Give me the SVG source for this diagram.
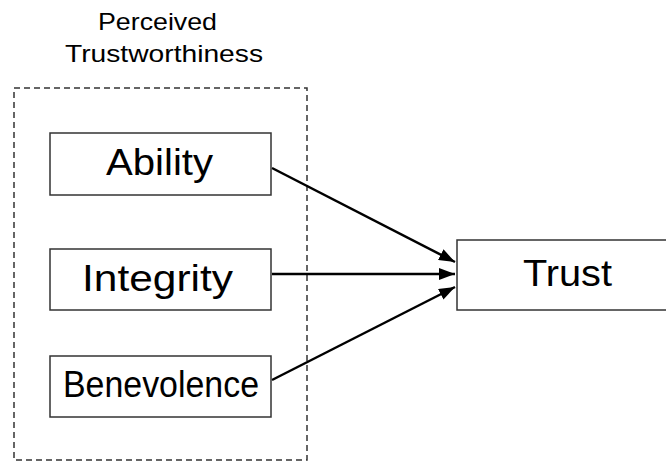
<svg xmlns="http://www.w3.org/2000/svg" width="666" height="462" viewBox="0 0 666 462">
<defs>
<style>
.box{fill:#fff;stroke:#333;stroke-width:1.5}
.grp{fill:none;stroke:#333;stroke-width:1.5;stroke-dasharray:6 4}
.lbl{font-family:"Liberation Sans",Arial,sans-serif;font-size:36px;fill:#000}
.ttl{font-family:"Liberation Sans",Arial,sans-serif;font-size:24px;fill:#000}
.edge{stroke:#000;stroke-width:2.5;fill:none}
</style>
<marker id="ah" viewBox="0 0 16 12" refX="16" refY="6" markerWidth="16" markerHeight="12" markerUnits="userSpaceOnUse" orient="auto">
<path d="M0,0 L16,6 L0,12 z" fill="#000"/>
</marker>
</defs>
<rect width="666" height="462" fill="#fff"/>
<g id="title">
<text class="ttl" x="98" y="30" textLength="119" lengthAdjust="spacingAndGlyphs">Perceived</text>
<text class="ttl" x="65" y="62" textLength="198" lengthAdjust="spacingAndGlyphs">Trustworthiness</text>
</g>
<g id="group-perceived">
<rect class="grp" x="14" y="88" width="293" height="372"/>
</g>
<g id="connectors">
<line class="edge" x1="272" y1="168" x2="455" y2="262" marker-end="url(#ah)"/>
<line class="edge" x1="272" y1="274" x2="455" y2="274" marker-end="url(#ah)"/>
<line class="edge" x1="272" y1="380" x2="455" y2="287" marker-end="url(#ah)"/>
</g>
<g id="node-ability">
<rect class="box" x="50" y="133" width="221" height="62"/>
<text class="lbl" x="106" y="175" textLength="107" lengthAdjust="spacingAndGlyphs">Ability</text>
</g>
<g id="node-integrity">
<rect class="box" x="50" y="249" width="221" height="61"/>
<text class="lbl" x="82" y="291" textLength="151" lengthAdjust="spacingAndGlyphs">Integrity</text>
</g>
<g id="node-benevolence">
<rect class="box" x="50" y="356" width="221" height="61"/>
<text class="lbl" x="63" y="397" textLength="196" lengthAdjust="spacingAndGlyphs">Benevolence</text>
</g>
<g id="node-trust">
<rect class="box" x="457" y="240" width="230" height="70"/>
<text class="lbl" x="523" y="286" textLength="89" lengthAdjust="spacingAndGlyphs">Trust</text>
</g>
</svg>
